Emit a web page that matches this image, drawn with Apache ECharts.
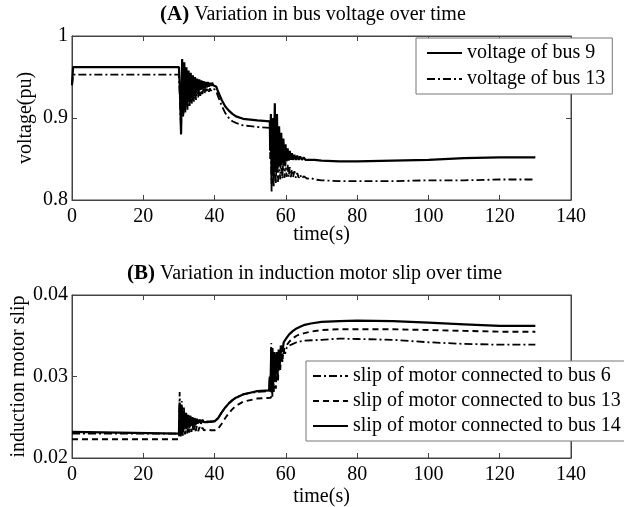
<!DOCTYPE html>
<html>
<head>
<meta charset="utf-8">
<script src="https://cdn.jsdelivr.net/npm/echarts@6/dist/echarts.min.js"></script>
<style>
html,body{margin:0;padding:0;background:#fff;}
#c{width:624px;height:507px;}
</style>
</head>
<body>
<div id="c"></div>
<script>
// ---------- Data ----------
const xTicks = [0, 20, 40, 60, 80, 100, 120, 140];
const voltTicks = ['0.8', '0.9', '1'];
const slipTicks = ['0.02', '0.03', '0.04'];

// Panel A: voltage of bus 9 (solid)
const v9T = [0,0.3,30,30.3,30.6,30.9,31.2,31.5,31.8,32.1,32.4,32.7,33.0,33.3,33.6,33.9,34.2,34.5,34.8,35.1,35.4,35.7,36.0,36.3,36.6,36.9,37.2,37.5,37.8,38.1,38.4,38.7,39.0,39.3,39.6,40.0,
  40.5,41,42,43,44,45,46,48,50,52,55.5,
  55.6,55.8,56.0,56.3,56.6,56.9,57.2,57.5,57.8,58.1,58.4,58.7,59.0,59.3,59.6,59.9,60.2,60.5,60.8,61.1,61.4,61.7,62.0,62.4,62.8,63.2,63.6,64.0,64.5,65.0,65.5,66.0,66.5,67,68,70,75,80,90,100,110,120,130];
const v9V = [0.94,0.962,0.962,0.93,0.880,0.972,0.905,0.968,0.910,0.962,0.915,0.958,0.920,0.955,0.924,0.952,0.927,0.950,0.930,0.948,0.932,0.947,0.934,0.946,0.935,0.945,0.936,0.944,0.937,0.944,0.938,0.943,0.939,0.943,0.940,0.941,
  0.938,0.932,0.922,0.914,0.909,0.905,0.902,0.899,0.898,0.897,0.896,
  0.86,0.905,0.82,0.90,0.83,0.918,0.835,0.905,0.84,0.89,0.842,0.882,0.845,0.875,0.846,0.868,0.847,0.863,0.848,0.86,0.849,0.857,0.849,0.855,0.849,0.854,0.849,0.853,0.849,0.852,0.849,0.851,0.849,0.850,0.849,0.848,0.847,0.847,0.848,0.849,0.851,0.852,0.852];

// Panel A: voltage of bus 13 (dash-dot)
const v13T = [0,0.3,30,30.3,30.6,30.9,31.2,31.5,31.8,32.1,32.4,32.7,33.0,33.3,33.6,33.9,34.2,34.5,34.8,35.1,35.4,35.7,36.0,36.3,36.6,36.9,37.2,37.5,37.8,38.1,38.4,38.7,39.0,39.3,39.6,40.0,
  40.5,41,42,43,44,45,46,48,50,52,55.5,
  55.6,55.8,56.0,56.3,56.6,56.9,57.2,57.5,57.8,58.1,58.4,58.7,59.0,59.3,59.6,59.9,60.2,60.5,60.8,61.1,61.4,61.7,62.0,62.4,62.8,63.2,63.6,64.0,64.5,65.0,66,67,68,70,75,80,90,100,110,120,130];
const v13V = [0.94,0.953,0.953,0.92,0.885,0.962,0.90,0.958,0.905,0.952,0.91,0.948,0.913,0.945,0.917,0.943,0.92,0.94,0.922,0.939,0.925,0.938,0.927,0.937,0.929,0.937,0.930,0.936,0.931,0.936,0.932,0.936,0.933,0.936,0.934,0.935,
  0.932,0.926,0.915,0.906,0.900,0.896,0.894,0.891,0.890,0.889,0.888,
  0.85,0.89,0.809,0.88,0.815,0.895,0.82,0.875,0.822,0.865,0.825,0.858,0.826,0.852,0.827,0.847,0.828,0.843,0.828,0.840,0.828,0.837,0.828,0.835,0.827,0.833,0.827,0.831,0.826,0.829,0.826,0.827,0.825,0.824,0.823,0.823,0.823,0.824,0.824,0.825,0.825];

// Panel B: slip of motor connected to bus 6 (dash-dot)
const s6T = [0,30,30.2,30.5,30.8,31.1,31.4,31.7,32.0,32.3,32.6,32.9,33.2,33.5,33.8,34.1,34.4,34.7,35.0,35.4,35.8,36.2,36.6,37,38,39,40,
  41,42,43,44,45,46,48,50,52,55.3,
  55.5,55.7,55.9,56.1,56.3,56.5,56.8,57.1,57.4,57.7,58.0,58.3,58.6,59.0,59.4,59.8,60.3,61,62,63,65,70,75,80,90,100,110,120,130];
const s6V = [0.0230,0.0230,0.0281,0.0232,0.0270,0.0233,0.0262,0.0235,0.0257,0.0236,0.0254,0.0237,0.0252,0.0238,0.0250,0.0239,0.0249,0.0240,0.0248,0.0241,0.0247,0.0242,0.0246,0.0243,0.0245,0.0244,0.0245,
  0.0249,0.0256,0.0262,0.0267,0.0271,0.0274,0.0278,0.0280,0.0281,0.0282,
  0.0300,0.0280,0.0341,0.0285,0.0335,0.0290,0.0330,0.0295,0.0328,0.0300,0.0328,0.0310,0.0330,0.0318,0.0333,0.0328,0.0336,0.0338,0.0340,0.0342,0.0344,0.0345,0.03465,0.0346,0.0345,0.0342,0.0340,0.0339,0.0339];

// Panel B: slip of motor connected to bus 13 (dashed)
const s13T = [0,30,30.2,30.5,30.8,31.1,31.4,31.7,32.0,32.3,32.6,32.9,33.2,33.5,33.8,34.1,34.4,34.7,35.0,35.4,35.8,36.2,36.6,37.0,38,39,40,
  41,42,43,44,45,46,48,50,52,55.8,
  56.0,56.2,56.4,56.6,56.9,57.2,57.5,57.8,58.1,58.4,58.8,59.2,59.6,60.0,60.5,61,62,63,64,65,67,70,75,80,90,100,110,120,130];
const s13V = [0.0223,0.0223,0.0262,0.0225,0.0255,0.0227,0.0250,0.0229,0.0247,0.0230,0.0245,0.0231,0.0243,0.0232,0.0241,0.0232,0.0240,0.0233,0.0239,0.0233,0.0238,0.0234,0.0237,0.0234,0.0235,0.0234,0.0234,
  0.0236,0.0242,0.0249,0.0255,0.0260,0.0264,0.0269,0.0271,0.0273,0.0274,
  0.0290,0.0275,0.0320,0.0280,0.0322,0.0285,0.0325,0.0295,0.0326,0.0308,0.0330,0.0322,0.0335,0.0335,0.0340,0.0343,0.0347,0.0350,0.0352,0.0353,0.0355,0.0357,0.0358,0.0358,0.0358,0.0357,0.0356,0.0355,0.0355];

// Panel B: slip of motor connected to bus 14 (solid)
const s14T = [0,0.3,30,30.2,30.5,30.8,31.1,31.4,31.7,32.0,32.3,32.6,32.9,33.2,33.5,33.8,34.1,34.4,34.7,35.0,35.4,35.8,36.2,36.6,37.0,37.5,38,38.5,39,40,
  41,42,43,44,45,46,48,50,52,55.3,
  55.5,55.7,55.9,56.1,56.3,56.5,56.8,57.1,57.4,57.7,58.0,58.3,58.6,59.0,59.4,59.8,60.3,61,62,63,64,65,67,70,75,80,90,100,110,120,130];
const s14V = [0.0232,0.0230,0.0230,0.0268,0.0232,0.0262,0.0235,0.0258,0.0237,0.0255,0.0238,0.0253,0.0239,0.0251,0.0240,0.0250,0.0241,0.0249,0.0242,0.0248,0.0243,0.0247,0.0243,0.0247,0.0244,0.0246,0.0244,0.0246,0.0245,0.0245,
  0.0249,0.0256,0.0262,0.0267,0.0271,0.0274,0.0278,0.0280,0.0282,0.0283,
  0.0300,0.0285,0.0335,0.0290,0.0330,0.0295,0.0328,0.0300,0.0330,0.0310,0.0333,0.0318,0.0338,0.0330,0.0342,0.0340,0.0348,0.0352,0.0356,0.0359,0.0361,0.0363,0.0365,0.0367,0.0368,0.03685,0.0368,0.0366,0.0364,0.0362,0.0362];

// ---------- Chart ----------
const zip = (t, v) => t.map((x, i) => [x, v[i]]);
const FONT = '"Liberation Serif", "Times New Roman", serif';
const AXC = '#444';

function xAxes(gi) {
  return [{
    type: 'value', gridIndex: gi, min: 0, max: 140, interval: 20,
    name: 'time(s)', nameLocation: 'middle', nameGap: gi === 0 ? 25 : 29, nameMoveOverlap: false,
    nameTextStyle: { fontFamily: FONT, fontSize: 20, color: '#000' },
    axisLine: { show: true, onZero: false, lineStyle: { color: AXC, width: 1 } },
    axisTick: { show: true, inside: true, length: 5, lineStyle: { color: AXC } },
    axisLabel: { fontFamily: FONT, fontSize: 20, color: '#000', margin: 7,
      formatter: v => xTicks.includes(v) ? String(v) : '' },
    splitLine: { show: false }
  }, {
    type: 'value', gridIndex: gi, min: 0, max: 140, interval: 20, position: 'top',
    axisLine: { show: true, onZero: false, lineStyle: { color: AXC, width: 1 } },
    axisTick: { show: true, inside: true, length: 5, lineStyle: { color: AXC } },
    axisLabel: { show: false }, splitLine: { show: false }
  }];
}
function yAxes(gi, min, max, interval, labels, name, gap) {
  return [{
    type: 'value', gridIndex: gi, min: min, max: max, interval: interval,
    name: name, nameLocation: 'middle', nameGap: gap, nameMoveOverlap: false,
    nameTextStyle: { fontFamily: FONT, fontSize: 20, color: '#000' },
    axisLine: { show: true, onZero: false, lineStyle: { color: AXC, width: 1 } },
    axisTick: { show: true, inside: true, length: 5, lineStyle: { color: AXC } },
    axisLabel: { fontFamily: FONT, fontSize: 20, color: '#000', margin: 4,
      formatter: v => { const i = Math.round((v - min) / interval); return labels[i] || ''; } },
    splitLine: { show: false }
  }, {
    type: 'value', gridIndex: gi, min: min, max: max, interval: interval, position: 'right',
    axisLine: { show: true, onZero: false, lineStyle: { color: AXC, width: 1 } },
    axisTick: { show: true, inside: true, length: 5, lineStyle: { color: AXC } },
    axisLabel: { show: false }, splitLine: { show: false }
  }];
}

function line(name, data, xi, yi, type, width) {
  return {
    name: name, type: 'line', xAxisIndex: xi, yAxisIndex: yi, data: data,
    symbol: 'none', animation: false,
    lineStyle: { color: '#000', width: width, type: type },
    itemStyle: { color: '#000' }
  };
}

function titleOpt(tag, rest, left, top) {
  return {
    text: '{a|' + tag + '} {t|' + rest + '}',
    left: left, top: top, padding: 0,
    textStyle: { fontFamily: FONT, fontWeight: 'normal', fontSize: 20, color: '#000', rich: {
      a: { fontFamily: FONT, fontSize: 21, fontWeight: 'bold', color: '#000' },
      t: { fontFamily: FONT, fontSize: 20, fontWeight: 'normal', color: '#000' } } }
  };
}

const chart = echarts.init(document.getElementById('c'), null, { renderer: 'canvas' });
const legendText = { fontFamily: FONT, fontSize: 20, color: '#000', lineHeight: 22 };
chart.setOption({
  backgroundColor: '#fff',
  animation: false,
  title: [titleOpt('(A)', 'Variation in bus voltage over time', 160, 4),
          titleOpt('(B)', 'Variation in induction motor slip over time', 127, 263)],
  grid: [
    { left: 72, top: 36, width: 499, height: 164, show: true, borderColor: AXC, borderWidth: 1, outerBoundsMode: 'none', containLabel: false },
    { left: 72, top: 295, width: 499, height: 163, show: true, borderColor: AXC, borderWidth: 1, outerBoundsMode: 'none', containLabel: false }
  ],
  xAxis: [...xAxes(0), ...xAxes(1)],
  yAxis: [...yAxes(0, 0.8, 1.0, 0.1, voltTicks, 'voltage(pu)', 36),
          ...yAxes(1, 0.02, 0.04, 0.01, slipTicks, 'induction motor slip', 43)],
  legend: [{
    data: ['voltage of bus 9', 'voltage of bus 13'],
    orient: 'vertical', left: 416, top: 38,
    itemWidth: 35, itemHeight: 14, itemGap: 4,
    padding: [4, 7, 4, 10],
    borderColor: '#777', borderWidth: 1, backgroundColor: '#fff',
    itemStyle: { opacity: 0 },
    textStyle: legendText
  }, {
    data: ['slip of motor connected to bus 6', 'slip of motor connected to bus 13', 'slip of motor connected to bus 14'],
    orient: 'vertical', left: 306, top: 361,
    itemWidth: 35, itemHeight: 14, itemGap: 3,
    padding: [4, 12, 4, 6],
    borderColor: '#777', borderWidth: 1, backgroundColor: '#fff',
    itemStyle: { opacity: 0 },
    textStyle: legendText
  }],
  series: [
    line('voltage of bus 9', zip(v9T, v9V), 0, 0, 'solid', 2.2),
    line('voltage of bus 13', zip(v13T, v13V), 0, 0, [8, 3, 2, 3], 1.8),
    line('slip of motor connected to bus 6', zip(s6T, s6V), 2, 2, [8, 3, 2, 3], 1.8),
    line('slip of motor connected to bus 13', zip(s13T, s13V), 2, 2, [6, 4], 1.9),
    line('slip of motor connected to bus 14', zip(s14T, s14V), 2, 2, 'solid', 2.2)
  ]
});
</script>
</body>
</html>
